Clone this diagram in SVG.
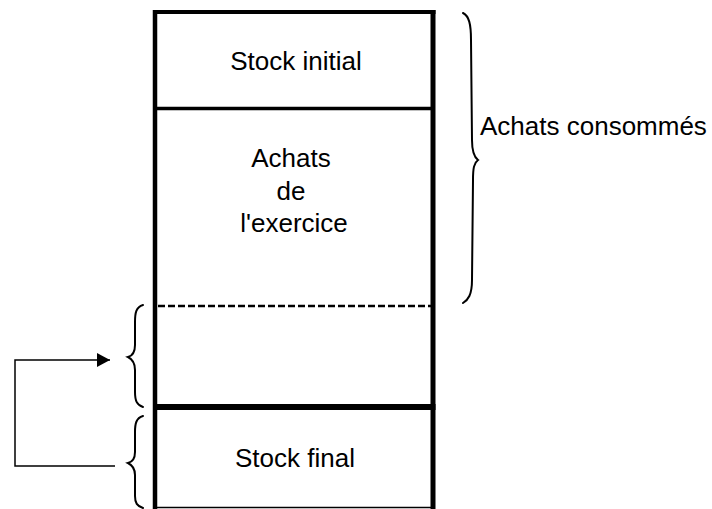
<svg xmlns="http://www.w3.org/2000/svg" width="712" height="509" viewBox="0 0 712 509">
  <style>
    .t { font-family: "Liberation Sans", Arial, sans-serif; font-size: 26px; fill: #000; }
    .c { text-anchor: middle; }
    .b { stroke: #000; fill: none; }
    .brace { stroke: #000; stroke-width: 2; fill: none; stroke-linecap: round; }
    .conn { stroke: #000; stroke-width: 1.5; fill: none; }
  </style>
  <defs>
    <marker id="arrow" markerUnits="userSpaceOnUse" markerWidth="14" markerHeight="14" refX="13" refY="7" orient="auto">
      <path d="M0,0 L13,7 L0,14 Z" fill="#000"/>
    </marker>
  </defs>
  <rect width="712" height="509" fill="#fff"/>

  <g id="box-frame">
    <line class="b" x1="155" y1="10" x2="155" y2="509" stroke-width="4.5"/>
    <line class="b" x1="433" y1="10" x2="433" y2="509" stroke-width="5"/>
    <line class="b" x1="153" y1="12" x2="435.5" y2="12" stroke-width="4"/>
  </g>

  <g id="stock-initial">
    <text class="t c" x="296" y="70">Stock initial</text>
  </g>
  <line class="b" x1="155" y1="108.5" x2="433" y2="108.5" stroke-width="3.3"/>

  <g id="achats-exercice">
    <text class="t c" x="291" y="167">Achats</text>
    <text class="t c" x="291" y="200">de</text>
    <text class="t c" x="294" y="232">l'exercice</text>
  </g>

  <g id="separation">
    <line class="b" x1="158" y1="306" x2="431" y2="306" stroke-width="2.6" stroke-dasharray="7,3"/>
  </g>

  <g id="ecart">
    <line class="b" x1="153" y1="407" x2="435.5" y2="407" stroke-width="6"/>
  </g>

  <g id="stock-final">
    <text class="t c" x="295" y="467">Stock final</text>
    <line class="b" x1="155" y1="507.5" x2="433" y2="507.5" stroke-width="1.5"/>
  </g>

  <g id="achats-consommes">
    <path class="brace" d="M463,13 C469,16 471,24 471,40 L472,140 C472,152 474,157 478,160 C474,163 473,168 473,180 L472,280 C472,295 468,300 463,303"/>
    <text class="t" x="480" y="135">Achats consommés</text>
  </g>

  <g id="brace-ecart">
    <path class="brace" d="M143,305 C136,307 135,313 135,322 L135,345 C135,352 132,356 128,357 C132,359 135,362 135,370 L135,392 C135,401 137,405 143,407"/>
  </g>

  <g id="brace-stock-final">
    <path class="brace" d="M143,416 C136,418 135,424 135,432 L135,452 C135,459 132,462 128,463 C132,465 135,468 135,475 L135,496 C135,503 137,506 143,508"/>
  </g>

  <g id="connectors">
    <path class="conn" d="M115,466 L15,466 L15,360 L110,360" marker-end="url(#arrow)"/>
  </g>
</svg>
